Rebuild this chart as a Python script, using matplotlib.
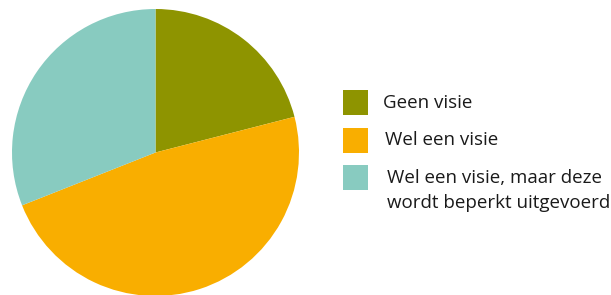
import matplotlib.pyplot as plt
from matplotlib.patches import Rectangle

labels = ['Geen visie', 'Wel een visie', 'Wel een visie, maar deze\nwordt beperkt uitgevoerd']
values = [21, 48, 31]
colors = ['#8e9400', '#f9ae00', '#88cbc0']

W, H = 611, 295
fig = plt.figure(figsize=(W / 100, H / 100), dpi=100)

# pie area, in pixels: left 12, top 9, diameter 287
ax = fig.add_axes([12 / W, (H - 9 - 287) / H, 287 / W, 287 / H])
ax.pie(values, colors=colors, startangle=90, counterclock=False,
       wedgeprops=dict(linewidth=0))
ax.set_xlim(-1, 1)
ax.set_ylim(-1, 1)
ax.set_aspect('equal')
ax.axis('off')

# legend drawn by hand (pixel positions, from top)
box_tops = [90, 128, 165]
baselines = [108, 145, 183]
text_x = [383, 385, 387]
for top, base, tx, lab, col in zip(box_tops, baselines, text_x, labels, colors):
    fig.patches.append(Rectangle((343 / W, (H - top - 25) / H), 25 / W, 25 / H,
                                 transform=fig.transFigure, facecolor=col,
                                 edgecolor='none'))
    # one text per line so every baseline sits where it should
    for i, line in enumerate(lab.split('\n')):
        fig.text(tx / W, (H - base - 25 * i) / H, line, ha='left', va='baseline',
                 fontsize=13.5, family='Open Sans', color='#1a1a1a')

fig.savefig('out.png', dpi=100)
